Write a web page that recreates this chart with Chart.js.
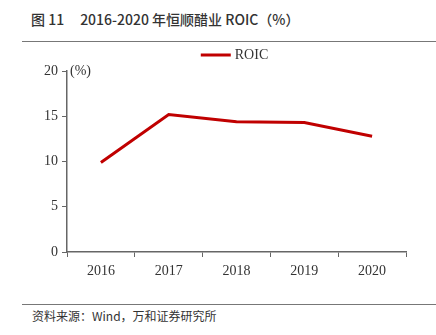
<!DOCTYPE html>
<html>
<head>
<meta charset="utf-8">
<script src="https://cdn.jsdelivr.net/npm/chart.js@4"></script>
<style>
	body { margin: 0; width: 436px; height: 335px; background: #fff; position: relative; overflow: hidden; }
	#title { position: absolute; left: 31px; top: 9px; font: 500 14px "Noto Sans CJK SC", "Liberation Sans", sans-serif; color: #333; white-space: pre; }
	#title .num { margin-right: 16px; }
	#top-rule { position: absolute; left: 22px; right: 0; top: 41px; border-top: 1.5px solid #777; }
	#bottom-rule { position: absolute; left: 22px; right: 0; top: 304px; border-top: 1.5px solid #777; }
	#source { position: absolute; left: 32px; top: 307px; font: 12px "Noto Sans CJK SC", "Liberation Sans", sans-serif; color: #333; }
	#chart-box { position: absolute; left: 0; top: 0; width: 436px; height: 290px; }
</style>
</head>
<body>
<div id="title"><span class="num">图 11</span>2016-2020 年恒顺醋业 ROIC（%）</div>
<div id="top-rule"></div>
<div id="chart-box"><canvas id="roic-chart"></canvas></div>
<div id="bottom-rule"></div>
<div id="source">资料来源：Wind，万和证券研究所</div>
<script>
const years = ['2016', '2017', '2018', '2019', '2020'];
const roicValues = [9.9, 15.2, 14.4, 14.3, 12.8];
const yTicks = [0, 5, 10, 15, 20];

const roicCanvas = document.getElementById('roic-chart');
const axisColor = '#666';
const serif = '"Liberation Serif", "Times New Roman", serif';

// "(%)" by the axis top, and the legend centred over the plot area
const extras = {
	id: 'extras',
	afterDraw(chart) {
		const ctx = chart.ctx;
		const area = chart.chartArea;
		const y = chart.scales.y;
		const ds = chart.data.datasets[0];
		ctx.save();
		ctx.font = '14px ' + serif;
		ctx.fillStyle = '#333';
		ctx.textBaseline = 'middle';
		ctx.fillText('(%)', area.left + 3, y.getPixelForValue(20));

		const lineW = 30, gap = 4;
		const total = lineW + gap + ctx.measureText(ds.label).width;
		const x0 = (area.left + area.right) / 2 - total / 2 - 2;
		const ly = 55;
		ctx.strokeStyle = ds.borderColor;
		ctx.lineWidth = ds.borderWidth;
		ctx.beginPath();
		ctx.moveTo(x0, ly);
		ctx.lineTo(x0 + lineW, ly);
		ctx.stroke();
		ctx.fillText(ds.label, x0 + lineW + gap, ly);
		ctx.restore();
	}
};

new Chart(roicCanvas, {
	type: 'line',
	data: {
		labels: years,
		datasets: [{
			label: 'ROIC',
			data: roicValues,
			borderColor: '#C00000',
			backgroundColor: '#C00000',
			borderWidth: 3,
			pointRadius: 0,
			tension: 0
		}]
	},
	options: {
		responsive: true,
		maintainAspectRatio: false,
		animation: false,
		layout: {
			padding: { left: 0, right: 30, top: 71, bottom: 0 }
		},
		scales: {
			x: {
				offset: true,
				grid: { offset: true, drawOnChartArea: false, drawTicks: true, tickLength: 5, color: axisColor },
				border: { color: axisColor, width: 1.5 },
				ticks: { color: '#333', font: { family: serif, size: 14 }, padding: 6, maxRotation: 0 },
				afterFit(scale) { scale.height = 38; }
			},
			y: {
				min: 0,
				max: 20,
				afterBuildTicks(scale) { scale.ticks = yTicks.map(v => ({ value: v })); },
				grid: { drawOnChartArea: false, drawTicks: true, tickLength: 5, color: axisColor },
				border: { color: axisColor, width: 1.5 },
				ticks: { color: '#333', font: { family: serif, size: 14 }, padding: 4 },
				afterFit(scale) { scale.width = 67; }
			}
		},
		plugins: {
			legend: { display: false },
			tooltip: { enabled: false }
		}
	},
	plugins: [extras]
});
</script>
</body>
</html>
